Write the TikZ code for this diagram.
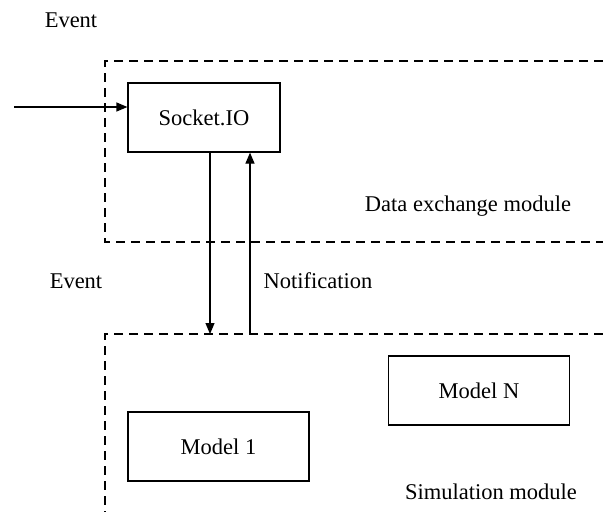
\documentclass[tikz,border=0pt]{standalone}
\usepackage{fontspec}
\setmainfont{Liberation Serif}
\usetikzlibrary{arrows.meta}
\begin{document}
\begin{tikzpicture}[x=1pt,y=-1pt,
  every node/.style={font=\fontsize{22.5}{27}\selectfont},
  box/.style={draw, line width=1.2pt, minimum width=181pt, minimum height=69pt, inner sep=0pt},
  region/.style={draw, line width=1.2pt, dash pattern=on 9pt off 6pt},
  link/.style={draw, line width=1.2pt, -{Triangle[length=11pt,width=9pt]}},
  lbl/.style={anchor=center, inner sep=0pt}]
\useasboundingbox (0,0) rectangle (603,512);

% module regions (open towards the right and bottom edge)
\draw[region] (603,61) -- (105,61) -- (105,242) -- (603,242);
\draw[region] (603,334) -- (105,334) -- (105,512);

% components
\node[box, minimum width=152pt] (sock) at (204,117.5) {Socket.IO};
\node[box] (m1) at (218.5,446.5) {Model 1};
\node[box] (mn) at (479,390.5) {Model N};

% anchor points of the connectors
\coordinate (src) at (14,107);
\coordinate (downend) at (210,334);
\coordinate (upstart) at (250,334);

\draw[link] (src) -- (src -| sock.west);
\draw[link] (sock.south -| downend) -- (downend);
\draw[link] (upstart) -- (sock.south -| upstart);

% labels
\node[lbl] (ev1) at (71,20) {Event};
\node[lbl] (ev2) at (76,281) {Event};
\node[lbl] (note) at (318,281) {Notification};
\node[lbl] (dx) at (468,206) {Data exchange module};
\node[lbl] (sim) at (491,492) {Simulation module};
\end{tikzpicture}
\end{document}
